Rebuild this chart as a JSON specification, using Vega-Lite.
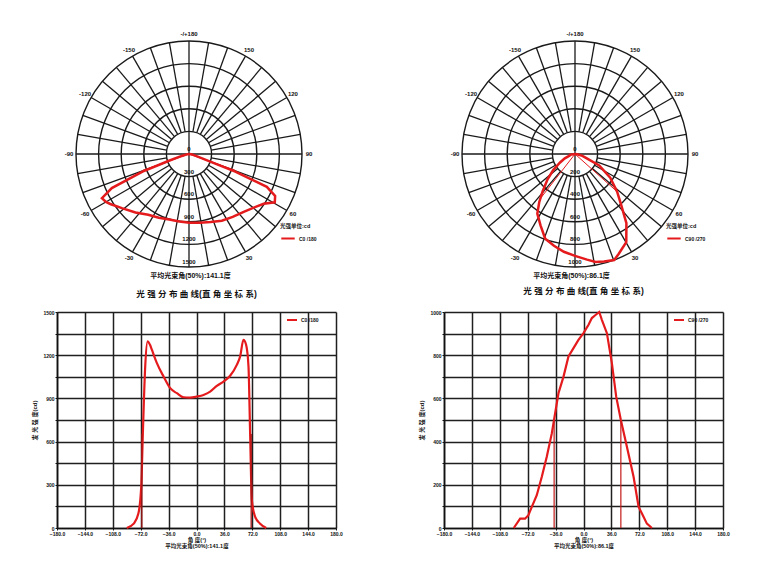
{
  "$schema": "https://vega.github.io/schema/vega-lite/v6.json",
  "padding": 0,
  "background": "white",
  "config": {
    "font": "Liberation Sans, Noto Sans CJK SC",
    "view": {"stroke": null, "fill": "white"},
    "axis": {
      "labelOverlap": false, "labelFlush": false, "labelFontSize": 5, "labelFontWeight": "bold", "labelColor": "#111",
      "labelPadding": 1, "tickSize": 2, "tickColor": "#111", "tickCount": 30, "grid": true, "gridColor": "#1f1f1f", "gridWidth": 1.5,
      "gridOpacity": 1, "domainColor": "#111", "domainWidth": 1.6, "titleFontWeight": "bold", "titleColor": "#111"
    },
    "legend": {
      "titleFontSize": 5.5, "titleFontWeight": "bold", "titleColor": "#111", "titlePadding": 1,
      "labelFontSize": 5, "labelFontWeight": "bold", "labelColor": "#111", "labelOffset": 3,
      "symbolType": "stroke", "symbolStrokeWidth": 2, "symbolSize": 180, "padding": 0, "rowPadding": 0
    }
  },
  "datasets": {
    "c0": [
      {"a": -90, "I": 0}, {"a": -81, "I": 30}, {"a": -75, "I": 100}, {"a": -71.3, "I": 290},
      {"a": -69.2, "I": 660}, {"a": -66.2, "I": 1120}, {"a": -63.1, "I": 1296}, {"a": -60, "I": 1272},
      {"a": -57.6, "I": 1238}, {"a": -51.1, "I": 1145}, {"a": -42.5, "I": 1052}, {"a": -33.9, "I": 971},
      {"a": -25.3, "I": 936}, {"a": -16.8, "I": 908}, {"a": -8.2, "I": 906}, {"a": 0.4, "I": 913},
      {"a": 9, "I": 924}, {"a": 17.6, "I": 947}, {"a": 26.2, "I": 987}, {"a": 34.8, "I": 1017},
      {"a": 43.4, "I": 1057}, {"a": 52, "I": 1133}, {"a": 56.3, "I": 1191}, {"a": 60.6, "I": 1307},
      {"a": 64, "I": 1272}, {"a": 67.1, "I": 1121}, {"a": 69.2, "I": 657}, {"a": 71.4, "I": 193},
      {"a": 75.7, "I": 77}, {"a": 82.1, "I": 30}, {"a": 90, "I": 0}
    ],
    "c90": [
      {"a": -90, "I": 0}, {"a": -81.8, "I": 43}, {"a": -75.4, "I": 43}, {"a": -71.1, "I": 59},
      {"a": -66.7, "I": 98}, {"a": -60.3, "I": 152}, {"a": -53.8, "I": 237}, {"a": -47.4, "I": 330},
      {"a": -40.9, "I": 438}, {"a": -36.6, "I": 531}, {"a": -32.3, "I": 624}, {"a": -25.8, "I": 701},
      {"a": -19.4, "I": 794}, {"a": -12.9, "I": 833}, {"a": -6.5, "I": 871}, {"a": 0, "I": 902},
      {"a": 6.5, "I": 941}, {"a": 10.8, "I": 972}, {"a": 15.1, "I": 985}, {"a": 20.3, "I": 1000},
      {"a": 23.7, "I": 964}, {"a": 30.2, "I": 902}, {"a": 36.6, "I": 763}, {"a": 42.2, "I": 608},
      {"a": 48.2, "I": 500}, {"a": 56, "I": 376}, {"a": 64.6, "I": 237}, {"a": 71.1, "I": 98},
      {"a": 75.4, "I": 67}, {"a": 81.8, "I": 20}, {"a": 88.3, "I": 0}
    ],
    "spokes": [
      {"a": 0}, {"a": 10}, {"a": 20}, {"a": 30}, {"a": 40}, {"a": 50}, {"a": 60}, {"a": 70}, {"a": 80},
      {"a": 90}, {"a": 100}, {"a": 110}, {"a": 120}, {"a": 130}, {"a": 140}, {"a": 150}, {"a": 160}, {"a": 170},
      {"a": 180}, {"a": 190}, {"a": 200}, {"a": 210}, {"a": 220}, {"a": 230}, {"a": 240}, {"a": 250}, {"a": 260},
      {"a": 270}, {"a": 280}, {"a": 290}, {"a": 300}, {"a": 310}, {"a": 320}, {"a": 330}, {"a": 340}, {"a": 350}
    ],
    "angleLabels": [
      {"a": 180, "label": "-/+180"}, {"a": 150, "label": "150"}, {"a": 120, "label": "120"},
      {"a": 90, "label": "90"}, {"a": 60, "label": "60"}, {"a": 30, "label": "30"},
      {"a": -30, "label": "-30"}, {"a": -60, "label": "-60"}, {"a": -90, "label": "-90"},
      {"a": -120, "label": "-120"}, {"a": -150, "label": "-150"}
    ],
    "ringsL": [{"r": 0}, {"r": 300}, {"r": 600}, {"r": 900}, {"r": 1200}, {"r": 1500}],
    "ringsR": [{"r": 0}, {"r": 200}, {"r": 400}, {"r": 600}, {"r": 800}, {"r": 1000}],
    "beamL": [{"a": -70.55, "v": 653}, {"a": 70.55, "v": 653}],
    "beamR": [{"a": -37.9, "v": 500}, {"a": 48.2, "v": 500}]
  },
  "spacing": 8,
  "resolve": {"scale": {"color": "independent", "size": "independent"}, "legend": {"color": "independent"}},
  "vconcat": [
    {
      "spacing": 0,
      "bounds": "flush",
      "resolve": {"scale": {"color": "independent", "size": "independent"}, "legend": {"color": "independent"}},
      "hconcat": [
        {
          "width": 381, "height": 270,
          "title": {"text": "平均光束角(50%):141.1度", "orient": "bottom", "offset": 2, "fontSize": 7, "fontWeight": "bold", "anchor": "middle", "color": "#111"},
          "encoding": {
            "x": {"field": "x", "type": "quantitative", "scale": {"domain": [-2508.85, 2548.67], "nice": false, "zero": false}, "axis": null},
            "y": {"field": "y", "type": "quantitative", "scale": {"domain": [-1539.82, 2044.25], "nice": false, "zero": false}, "axis": null}
          },
          "layer": [
            {
              "data": {"name": "ringsL"},
              "transform": [{"filter": "datum.r > 0"}, {"calculate": "0", "as": "x"}, {"calculate": "0", "as": "y"}],
              "mark": {"type": "point", "shape": "circle", "filled": false, "color": "#1a1a1a", "strokeWidth": 1.4, "opacity": 1},
              "encoding": {"size": {"field": "r", "type": "quantitative", "scale": {"type": "pow", "exponent": 2, "domain": [0, 1500], "range": [0, 51076]}, "legend": null}}
            },
            {
              "data": {"name": "spokes"},
              "transform": [
                {"calculate": "datum.a % 90 == 0 ? 0 : 300", "as": "r0"},
                {"calculate": "datum.r0 * sin(datum.a * PI / 180)", "as": "x"},
                {"calculate": "-datum.r0 * cos(datum.a * PI / 180)", "as": "y"},
                {"calculate": "1500 * sin(datum.a * PI / 180)", "as": "xe"},
                {"calculate": "-1500 * cos(datum.a * PI / 180)", "as": "ye"}
              ],
              "mark": {"type": "rule", "color": "#1a1a1a", "strokeWidth": 1.3},
              "encoding": {"x2": {"field": "xe"}, "y2": {"field": "ye"}}
            },
            {
              "data": {"name": "c0"},
              "transform": [
                {"calculate": "datum.I * sin(datum.a * PI / 180)", "as": "x"},
                {"calculate": "-datum.I * cos(datum.a * PI / 180)", "as": "y"},
                {"calculate": "'C0 /180'", "as": "s"}
              ],
              "mark": {"type": "line", "strokeWidth": 2.5},
              "encoding": {
                "order": {"field": "a", "type": "quantitative"},
                "color": {"field": "s", "type": "nominal", "scale": {"range": ["#e41a1c"]}, "legend": {"title": "光强单位:cd", "orient": "none", "legendX": 280, "legendY": 224}}
              }
            },
            {
              "data": {"name": "beamL"},
              "transform": [
                {"calculate": "0", "as": "x"}, {"calculate": "0", "as": "y"},
                {"calculate": "datum.v * sin(datum.a * PI / 180)", "as": "xe"},
                {"calculate": "-datum.v * cos(datum.a * PI / 180)", "as": "ye"}
              ],
              "mark": {"type": "rule", "color": "#e41a1c", "strokeWidth": 1},
              "encoding": {"x2": {"field": "xe"}, "y2": {"field": "ye"}}
            },
            {
              "data": {"name": "angleLabels"},
              "transform": [
                {"calculate": "1593 * sin(datum.a * PI / 180)", "as": "x"},
                {"calculate": "-1593 * cos(datum.a * PI / 180)", "as": "y"}
              ],
              "mark": {"type": "text", "fontSize": 6, "fontWeight": "bold", "align": "center", "baseline": "middle", "color": "#111"},
              "encoding": {"text": {"field": "label", "type": "nominal"}}
            },
            {
              "data": {"name": "ringsL"},
              "transform": [{"calculate": "0", "as": "x"}, {"calculate": "-datum.r", "as": "y"}],
              "mark": {"type": "text", "fontSize": 6, "fontWeight": "bold", "align": "center", "baseline": "bottom", "dy": -2, "color": "#111"},
              "encoding": {"text": {"field": "r", "type": "quantitative", "format": "d"}}
            }
          ]
        },
        {
          "width": 381, "height": 270,
          "title": {"text": "平均光束角(50%):86.1度", "orient": "bottom", "offset": 2, "fontSize": 7, "fontWeight": "bold", "anchor": "middle", "color": "#111"},
          "encoding": {
            "x": {"field": "x", "type": "quantitative", "scale": {"domain": [-1716.81, 1654.87], "nice": false, "zero": false}, "axis": null},
            "y": {"field": "y", "type": "quantitative", "scale": {"domain": [-1026.55, 1362.83], "nice": false, "zero": false}, "axis": null}
          },
          "layer": [
            {
              "data": {"name": "ringsR"},
              "transform": [{"filter": "datum.r > 0"}, {"calculate": "0", "as": "x"}, {"calculate": "0", "as": "y"}],
              "mark": {"type": "point", "shape": "circle", "filled": false, "color": "#1a1a1a", "strokeWidth": 1.4, "opacity": 1},
              "encoding": {"size": {"field": "r", "type": "quantitative", "scale": {"type": "pow", "exponent": 2, "domain": [0, 1000], "range": [0, 51076]}, "legend": null}}
            },
            {
              "data": {"name": "spokes"},
              "transform": [
                {"calculate": "datum.a % 90 == 0 ? 0 : 200", "as": "r0"},
                {"calculate": "datum.r0 * sin(datum.a * PI / 180)", "as": "x"},
                {"calculate": "-datum.r0 * cos(datum.a * PI / 180)", "as": "y"},
                {"calculate": "1000 * sin(datum.a * PI / 180)", "as": "xe"},
                {"calculate": "-1000 * cos(datum.a * PI / 180)", "as": "ye"}
              ],
              "mark": {"type": "rule", "color": "#1a1a1a", "strokeWidth": 1.3},
              "encoding": {"x2": {"field": "xe"}, "y2": {"field": "ye"}}
            },
            {
              "data": {"name": "c90"},
              "transform": [
                {"calculate": "datum.I * sin(datum.a * PI / 180)", "as": "x"},
                {"calculate": "-datum.I * cos(datum.a * PI / 180)", "as": "y"},
                {"calculate": "'C90 /270'", "as": "s"}
              ],
              "mark": {"type": "line", "strokeWidth": 2.5},
              "encoding": {
                "order": {"field": "a", "type": "quantitative"},
                "color": {"field": "s", "type": "nominal", "scale": {"range": ["#e41a1c"]}, "legend": {"title": "光强单位:cd", "orient": "none", "legendX": 285, "legendY": 224}}
              }
            },
            {
              "data": {"name": "beamR"},
              "transform": [
                {"calculate": "0", "as": "x"}, {"calculate": "0", "as": "y"},
                {"calculate": "datum.v * sin(datum.a * PI / 180)", "as": "xe"},
                {"calculate": "-datum.v * cos(datum.a * PI / 180)", "as": "ye"}
              ],
              "mark": {"type": "rule", "color": "#e41a1c", "strokeWidth": 1},
              "encoding": {"x2": {"field": "xe"}, "y2": {"field": "ye"}}
            },
            {
              "data": {"name": "angleLabels"},
              "transform": [
                {"calculate": "1062 * sin(datum.a * PI / 180)", "as": "x"},
                {"calculate": "-1062 * cos(datum.a * PI / 180)", "as": "y"}
              ],
              "mark": {"type": "text", "fontSize": 6, "fontWeight": "bold", "align": "center", "baseline": "middle", "color": "#111"},
              "encoding": {"text": {"field": "label", "type": "nominal"}}
            },
            {
              "data": {"name": "ringsR"},
              "transform": [{"calculate": "0", "as": "x"}, {"calculate": "-datum.r", "as": "y"}],
              "mark": {"type": "text", "fontSize": 6, "fontWeight": "bold", "align": "center", "baseline": "bottom", "dy": -2, "color": "#111"},
              "encoding": {"text": {"field": "r", "type": "quantitative", "format": "d"}}
            }
          ]
        }
      ]
    },
    {
      "spacing": 0,
      "bounds": "flush",
      "resolve": {"scale": {"color": "independent"}, "legend": {"color": "independent"}},
      "hconcat": [
        {
          "width": 57, "height": 216,
          "data": {"values": [{"k": 0}]},
          "mark": {"type": "text"},
          "encoding": {"text": {"value": " "}}
        },
        {
          "width": 279, "height": 216,
          "title": {"text": "光 强 分 布 曲 线(直 角 坐 标 系)", "offset": 12, "fontSize": 8.5, "fontWeight": "bold", "anchor": "middle", "color": "#111"},
          "layer": [
            {
              "data": {"name": "c0"},
              "transform": [{"calculate": "'C0 /180'", "as": "s"}],
              "mark": {"type": "line", "strokeWidth": 2.2, "interpolate": "monotone"},
              "encoding": {
                "x": {"field": "a", "type": "quantitative", "scale": {"domain": [-180, 180], "nice": false, "zero": false},
                  "axis": {"values": [-180, -144, -108, -72, -36, 0, 36, 72, 108, 144, 180], "tickCount": 30, "format": ".1f",
                    "title": ["角 度(°)", "平均光束角(50%):141.1度"], "titleFontSize": 5.5, "titlePadding": 1.5, "titleLineHeight": 6}},
                "y": {"field": "I", "type": "quantitative", "scale": {"domain": [0, 1500], "nice": false},
                  "axis": {"values": [0, 150, 300, 450, 600, 750, 900, 1050, 1200, 1350, 1500], "tickCount": 30, "format": "d", "labelExpr": "datum.value % 300 == 0 ? datum.label : ''",
                    "title": "发 光 强 度(cd)", "titleFontSize": 6, "titlePadding": 5}},
                "color": {"field": "s", "type": "nominal", "scale": {"range": ["#e41a1c"]}, "legend": {"title": null, "orient": "none", "legendX": 229, "legendY": 2, "symbolSize": 100}}
              }
            },
            {
              "data": {"name": "beamL"},
              "transform": [{"calculate": "0", "as": "z"}],
              "mark": {"type": "rule", "color": "#a31515", "strokeWidth": 1.3},
              "encoding": {
                "x": {"field": "a", "type": "quantitative"},
                "y": {"field": "z", "type": "quantitative"},
                "y2": {"field": "v"}
              }
            }
          ]
        },
        {
          "width": 108, "height": 216,
          "data": {"values": [{"k": 0}]},
          "mark": {"type": "text"},
          "encoding": {"text": {"value": " "}}
        },
        {
          "width": 279, "height": 216,
          "title": {"text": "光 强 分 布 曲 线(直 角 坐 标 系)", "offset": 12, "fontSize": 8.5, "fontWeight": "bold", "anchor": "middle", "color": "#111"},
          "layer": [
            {
              "data": {"name": "c90"},
              "transform": [{"calculate": "'C90 /270'", "as": "s"}],
              "mark": {"type": "line", "strokeWidth": 2.2, "interpolate": "linear"},
              "encoding": {
                "x": {"field": "a", "type": "quantitative", "scale": {"domain": [-180, 180], "nice": false, "zero": false},
                  "axis": {"values": [-180, -144, -108, -72, -36, 0, 36, 72, 108, 144, 180], "tickCount": 30, "format": ".1f",
                    "title": ["角 度(°)", "平均光束角(50%):86.1度"], "titleFontSize": 5.5, "titlePadding": 1.5, "titleLineHeight": 6}},
                "y": {"field": "I", "type": "quantitative", "scale": {"domain": [0, 1000], "nice": false},
                  "axis": {"values": [0, 100, 200, 300, 400, 500, 600, 700, 800, 900, 1000], "tickCount": 30, "format": "d", "labelExpr": "datum.value % 200 == 0 ? datum.label : ''",
                    "title": "发 光 强 度(cd)", "titleFontSize": 6, "titlePadding": 5}},
                "color": {"field": "s", "type": "nominal", "scale": {"range": ["#e41a1c"]}, "legend": {"title": null, "orient": "none", "legendX": 229, "legendY": 2, "symbolSize": 100}}
              }
            },
            {
              "data": {"name": "beamR"},
              "transform": [{"calculate": "0", "as": "z"}],
              "mark": {"type": "rule", "color": "#c41a1a", "strokeWidth": 1.2},
              "encoding": {
                "x": {"field": "a", "type": "quantitative"},
                "y": {"field": "z", "type": "quantitative"},
                "y2": {"field": "v"}
              }
            }
          ]
        }
      ]
    }
  ]
}
